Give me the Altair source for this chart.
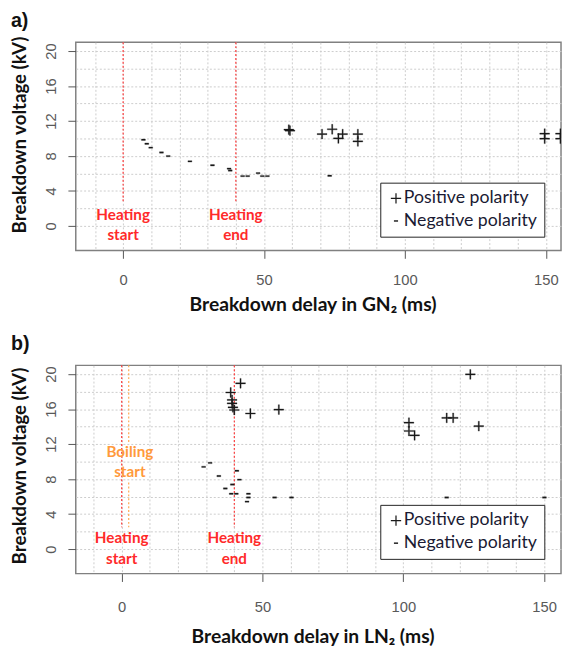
import altair as alt
import pandas as pd

# ---------------- data ----------------
# Panel a) GN2
pos_a_x = [58.8, 59.2, 70.6, 74.2, 76.4, 77.9, 83.3, 83.3, 149.6, 149.6, 155.2, 155.2]
pos_a_y = [11.0, 10.9, 10.5, 11.05, 10.0, 10.5, 10.5, 9.66, 10.55, 9.97, 10.55, 9.97]
neg_a_x = [7.2, 8.4, 9.8, 13.6, 16.0, 23.7, 31.7, 37.6, 38.0, 42.4, 44.2, 47.9, 49.4, 51.2, 73.3]
neg_a_y = [9.85, 9.4, 8.95, 8.4, 7.98, 7.38, 6.93, 6.55, 6.33, 5.7, 5.7, 6.03, 5.7, 5.7, 5.73]

# Panel b) LN2
pos_b_x = [42.2, 38.7, 39.2, 39.2, 39.5, 40.0, 45.7, 55.8, 123.8, 102.0, 102.0, 104.0, 115.4, 117.7, 126.8]
pos_b_y = [18.95, 17.9, 17.05, 16.65, 16.2, 15.9, 15.5, 15.95, 19.97, 14.45, 13.5, 13.0, 15.0, 15.0, 14.05]
neg_b_x = [31.4, 29.1, 34.5, 40.9, 41.8, 39.3, 36.8, 38.9, 40.7, 45.0, 45.0, 44.5, 54.3, 60.3, 115.4, 150.1]
neg_b_y = [9.85, 9.4, 8.35, 8.95, 7.94, 7.38, 6.93, 6.33, 6.33, 6.33, 5.9, 5.43, 5.9, 5.9, 5.9, 5.9]

# Event markers (ms) and the voltage span of their dotted lines
events_a_x = [0, 40]
events_a_y1 = [21, 21]
events_a_y2 = [2.6, 2.6]
events_a_col = ["#ff3b3b", "#ff3b3b"]

events_b_x = [0, 40, 2.5, 2.5]
events_b_y1 = [21, 21, 21, 7.6]
events_b_y2 = [2.5, 2.5, 12.1, 2.5]
events_b_col = ["#ff3b3b", "#ff3b3b", "#ffa850", "#ffa850"]

# Annotation labels
notes_a_text = ["Heating", "start", "Heating", "end"]
notes_a_x = [0, 0, 40, 40]
notes_a_y = [1.24, -1.1, 1.24, -1.1]
notes_a_col = ["#ff2a2a"] * 4

notes_b_text = ["Heating", "start", "Heating", "end", "Boiling", "start"]
notes_b_x = [0, 0, 40, 40, 2.9, 2.9]
notes_b_y = [1.24, -1.1, 1.24, -1.1, 11.1, 8.8]
notes_b_col = ["#ff2a2a"] * 4 + ["#ff9a3c"] * 2

polarity_labels = ["Positive polarity", "Negative polarity"]
x_grid_values = list(range(-10, 151, 10))
y_grid_values = list(range(0, 21, 2))

PLUS = "M-1,-0.12H-0.12V-1H0.12V-0.12H1V0.12H0.12V1H-0.12V0.12H-1Z"
MINUS = "M-0.4,-0.14H0.4V0.14H-0.4Z"


def points_df(px, py, nx, ny):
    return pd.DataFrame({
        "delay": px + nx,
        "voltage": py + ny,
        "polarity": [polarity_labels[0]] * len(px) + [polarity_labels[1]] * len(nx),
    })


def panel(label, xtitle, pts, ev, notes, xdom, title_y, label_pad_x, title_pad_x, legend_y, title_off):
    xscale = alt.Scale(domain=xdom, nice=False, zero=False)
    yscale = alt.Scale(domain=[-2.8, 21.0], nice=False, zero=False)
    xaxis = alt.Axis(
        values=x_grid_values, grid=True, gridColor="#cccccc", gridDash=[2, 2], gridWidth=1,
        domain=False, ticks=True, tickSize=8, tickColor="#555555", tickWidth=1,
        tickOpacity={"condition": {"test": "datum.value % 50 === 0", "value": 1}, "value": 0},
        labelExpr="datum.value % 50 === 0 ? datum.label : ''",
        labelOverlap=False, labelFlush=False,
        labelFont="Liberation Sans", labelFontSize=15, labelColor="#595959",
        labelPadding=label_pad_x,
        title=xtitle, titleFont="Lato", titleFontSize=19.6, titleFontWeight="bold",
        titleColor="#111111", titlePadding=title_pad_x, titleX=241,
    )
    yaxis = alt.Axis(
        values=y_grid_values, grid=True, gridColor="#cccccc", gridDash=[2, 2], gridWidth=1,
        domain=False, ticks=True, tickSize=8, tickColor="#555555", tickWidth=1,
        tickOpacity={"condition": {"test": "datum.value % 4 === 0", "value": 1}, "value": 0},
        labelExpr="datum.value % 4 === 0 ? datum.label : ''",
        labelOverlap=False, labelFlush=False,
        labelAngle=270, labelAlign="center", labelBaseline="alphabetic",
        labelFont="Liberation Sans", labelFontSize=15, labelColor="#595959",
        labelPadding=13,
        title="Breakdown voltage (kV)", titleFont="Lato", titleFontSize=19,
        titleFontWeight="bold", titleColor="#111111", titlePadding=14, titleY=title_y,
    )

    rules = alt.Chart(ev).mark_rule(strokeDash=[2, 2], strokeWidth=1.2).encode(
        x=alt.X("x:Q", scale=xscale, axis=xaxis),
        y=alt.Y("y1:Q", scale=yscale, axis=yaxis),
        y2="y2:Q",
        color=alt.Color("c:N", scale=None),
    )
    texts = alt.Chart(notes).mark_text(
        font="Lato", fontSize=15.5, fontWeight="bold", align="center", baseline="middle"
    ).encode(
        x=alt.X("x:Q", scale=xscale, axis=xaxis),
        y=alt.Y("y:Q", scale=yscale, axis=yaxis),
        text="t:N",
        color=alt.Color("c:N", scale=None),
    )
    pts_layer = alt.Chart(pts).mark_point(
        filled=True, fill="#1a1a1a", stroke="#1a1a1a", strokeWidth=0.3, size=100,
        opacity=1, clip=True,
    ).encode(
        x=alt.X("delay:Q", scale=xscale, axis=xaxis),
        y=alt.Y("voltage:Q", scale=yscale, axis=yaxis),
        shape=alt.Shape(
            "polarity:N",
            scale=alt.Scale(domain=polarity_labels, range=[PLUS, MINUS]),
            legend=alt.Legend(
                title=None, orient="none", legendX=310, legendY=legend_y,
                padding=7, strokeColor="#222222", fillColor="white", cornerRadius=0,
                labelFont="Lato", labelFontSize=18, labelColor="#1a1a33", labelLimit=300,
                labelOffset={"expr": "-1"}, rowPadding=5, symbolSize=110,
                symbolFillColor="#111111", symbolStrokeColor="#111111", symbolStrokeWidth=0.3,
            ),
        ),
    )
    return alt.layer(rules, texts, pts_layer).properties(
        width=494, height=212,
        title=alt.TitleParams(label, anchor="start", font="Liberation Sans", fontSize=20,
                              fontWeight="bold", color="#111111", offset=title_off),
    ).resolve_scale(shape="independent")


ev_a = pd.DataFrame({"x": events_a_x, "y1": events_a_y1, "y2": events_a_y2, "c": events_a_col})
ev_b = pd.DataFrame({"x": events_b_x, "y1": events_b_y1, "y2": events_b_y2, "c": events_b_col})
nt_a = pd.DataFrame({"t": notes_a_text, "x": notes_a_x, "y": notes_a_y, "c": notes_a_col})
nt_b = pd.DataFrame({"t": notes_b_text, "x": notes_b_x, "y": notes_b_y, "c": notes_b_col})

top = panel("a)", "Breakdown delay in GN\u2082 (ms)", points_df(pos_a_x, pos_a_y, neg_a_x, neg_a_y),
            ev_a, nt_a, [-16.8, 155.4], 94, 15, 8, 143, 5)
bottom = panel("b)", "Breakdown delay in LN\u2082 (ms)", points_df(pos_b_x, pos_b_y, neg_b_x, neg_b_y),
               ev_b, nt_b, [-16.3, 156.0], 102, 19, 13, 142, 11)

chart = alt.vconcat(top, bottom, spacing=18).resolve_scale(
    shape="independent", x="independent", y="independent"
).resolve_legend(shape="independent").configure(
    padding={"left": 2, "top": -4, "right": 0, "bottom": 0},
).configure_view(stroke="#808080", strokeWidth=1.5)

chart.save("out.html", embed_options={"renderer": "svg", "actions": False})
